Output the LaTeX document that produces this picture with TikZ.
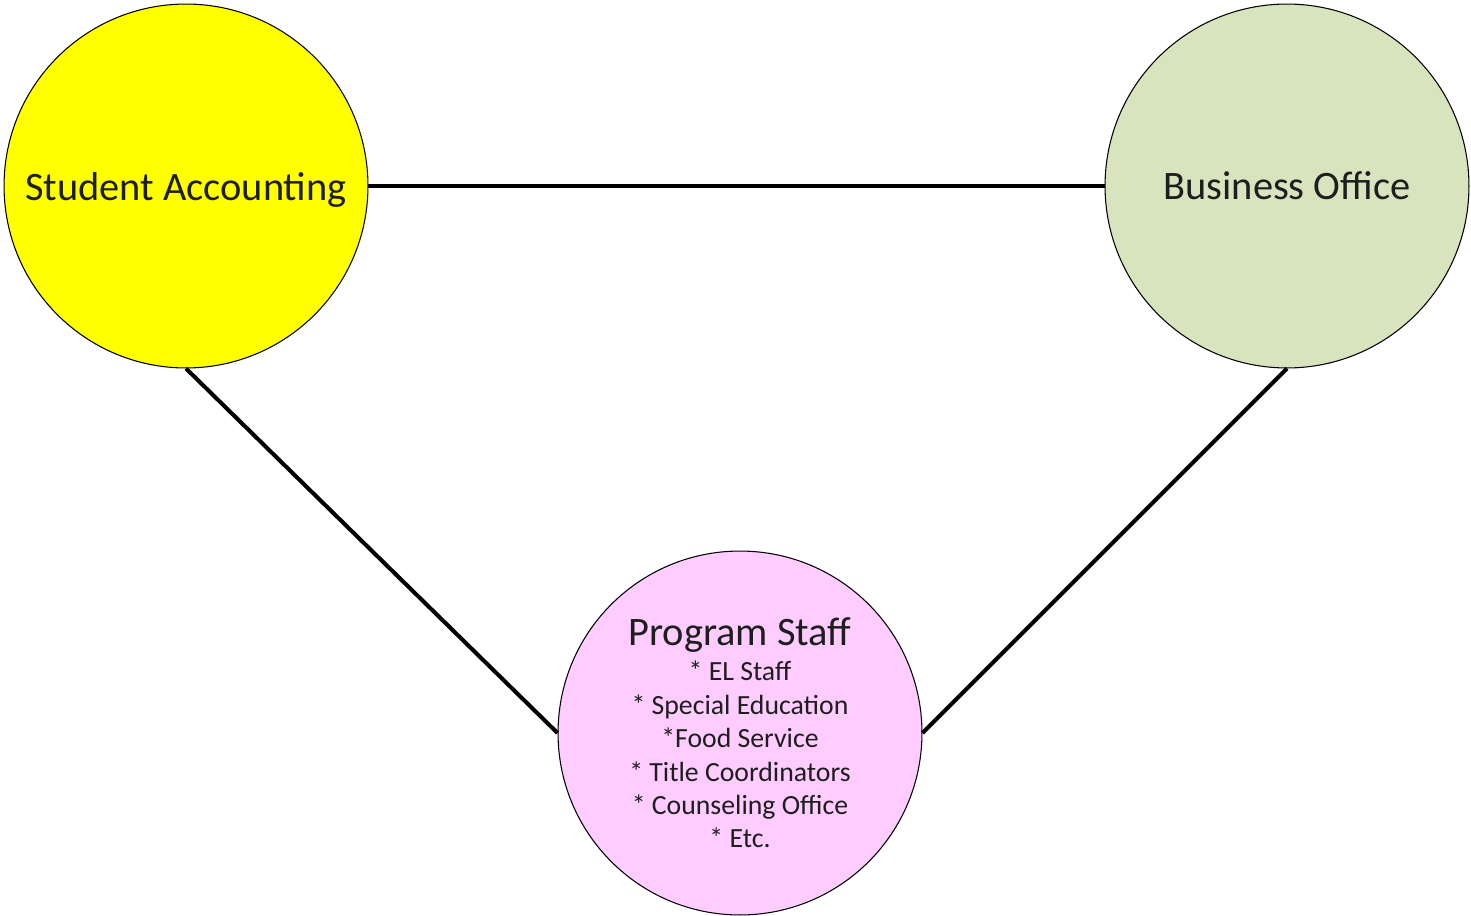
\documentclass[tikz,border=0pt]{standalone}
\usepackage{fontspec}
\setmainfont{Carlito}
\usepackage{tikz}
\usetikzlibrary{positioning,calc}

\definecolor{saYellow}{HTML}{FFFF00}
\definecolor{boGreen}{HTML}{D7E4BD}
\definecolor{psPink}{HTML}{FFCCFF}
\definecolor{txtGray}{HTML}{1E1E1E}

\tikzset{
  office/.style={draw, circle, line width=0.6pt, inner sep=0pt, minimum size=7.28cm, text=txtGray, align=center},
  link/.style={line width=2.3pt}
}

\begin{document}
\begin{tikzpicture}[x=0.02cm, y=-0.02cm]
    \useasboundingbox (0,0) rectangle (1471,916);

    %coordinates
    \coordinate (SAc) at (186,186);
    \coordinate (BOc) at (1287,186);
    \coordinate (PSc) at (740,733);

    %nodes
    \node[office, fill=saYellow, font=\fontsize{23}{28}\selectfont, text depth=0pt] (SA) at (SAc) {Student Accounting};
    \node[office, fill=boGreen, font=\fontsize{23}{28}\selectfont, text depth=0pt] (BO) at (BOc) {Business Office};
    \node[office, fill=psPink, font=\fontsize{15.8}{19}\selectfont] (PS) at (PSc)
      {\fontsize{23}{24}\selectfont Program Staff\\[1pt]
      \fontsize{15.8}{19.2}\selectfont * EL Staff\\
      * Special Education\\
      *Food Service\\
      * Title Coordinators\\
      * Counseling Office\\
      * Etc.};

    %edges
    \draw[link] (SA.east) -- (BO.west);
    \draw[link] (SA.south) -- (PS.west);
    \draw[link] (BO.south) -- (PS.east);
\end{tikzpicture}
\end{document}
